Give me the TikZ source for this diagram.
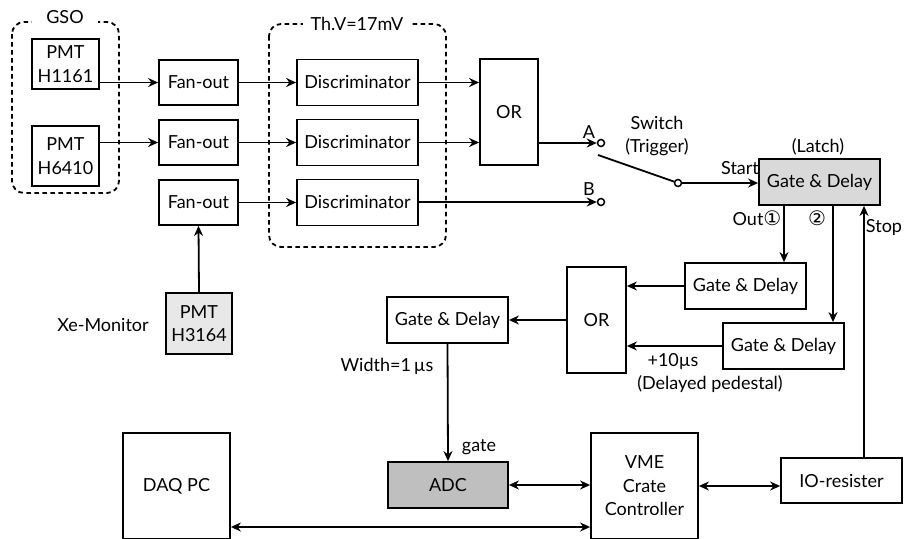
\documentclass[tikz,border=0pt]{standalone}
\usepackage{fontspec}
\setmainfont{Lato}
\newfontfamily\symfont{DejaVu Sans}
\usetikzlibrary{arrows.meta}
\begin{document}
\begin{tikzpicture}[x=1pt,y=-1pt,
  txt/.style={font=\fontsize{18}{23.5}\selectfont},
  box/.style={txt, draw, line width=1.8pt, inner sep=0pt, align=center},
  lbl/.style={txt, inner sep=0pt, align=center},
  arr/.style={line width=1.8pt, -{Stealth[length=10pt,width=9pt]}},
  darr/.style={line width=1.8pt, {Stealth[length=10pt,width=9pt]}-{Stealth[length=10pt,width=9pt]}},
  grp/.style={draw, line width=1.8pt, dash pattern=on 4.5pt off 3.5pt, rounded corners=12pt},
  term/.style={circle, draw, line width=1.5pt, minimum size=7pt, inner sep=0pt, fill=white},
  gd/.style={box, minimum width=121pt, minimum height=46pt}]
\clip (0,0) rectangle (904,538);
\fill[white] (0,0) rectangle (904,538);
% groups
\draw[grp] (12,22) rectangle (119,193);
\draw[grp] (269,24) rectangle (446,247);
\node[lbl, fill=white, inner xsep=14pt, inner ysep=2pt] (gsolbl) at (65,17) {GSO};
\node[lbl, fill=white, inner xsep=8pt, inner ysep=2pt] (thvlbl) at (357,24) {Th.V=17mV};
% PMTs
\node[box, minimum width=67pt, minimum height=50pt] (pmt1) at (65.5,64) {PMT\\H1161};
\node[box, minimum width=67pt, minimum height=60pt] (pmt2) at (65.5,156) {PMT\\H6410};
\node[box, fill=black!9, minimum width=66pt, minimum height=61pt] (pmt3) at (199,323.5) {PMT\\H3164};
\node[lbl] (xemon) at (103,325) {Xe-Monitor};
% fan-outs
\node[box, minimum width=79pt, minimum height=45pt] (fan1) at (198.5,82.5) {Fan-out};
\node[box, minimum width=79pt, minimum height=45pt] (fan2) at (198.5,142.5) {Fan-out};
\node[box, minimum width=79pt, minimum height=45pt] (fan3) at (198.5,202.5) {Fan-out};
% discriminators
\node[gd] (disc1) at (357.5,82.5) {Discriminator};
\node[gd] (disc2) at (357.5,142.5) {Discriminator};
\node[gd] (disc3) at (357.5,202.5) {Discriminator};
% OR
\node[box, minimum width=58pt, minimum height=106pt] (or1) at (509,112) {OR};
% switch
\node[term] (A) at (601,143) {};
\node[term] (B) at (601,202) {};
\node[term] (sw) at (678,183) {};
\coordinate (swstart) at (598,155);
\node[lbl] (alab) at (589,132) {A};
\node[lbl] (blab) at (589,189) {B};
\node[lbl] (swlab) at (657,136) {Switch\\(Trigger)};
% latch
\node[gd, fill=black!15] (latch) at (819.5,182) {Gate \& Delay};
\node[lbl] (latchlab) at (818,147) {(Latch)};
\node[lbl] (startlab) at (740,168) {Start};
\node[lbl] (outlab) at (757,218) {Out{\symfont\fontsize{20}{20}\selectfont ①}};
\node[lbl] (twolab) at (817,218) {{\symfont\fontsize{20}{20}\selectfont ②}};
\node[lbl] (stoplab) at (884,228) {Stop};
% gate & delays
\node[gd] (gd1) at (745.5,286) {Gate \& Delay};
\node[gd] (gd2) at (783.5,346) {Gate \& Delay};
\node[box, minimum width=59pt, minimum height=106pt] (or2) at (596.5,320) {OR};
\node[gd] (gd3) at (447.5,320) {Gate \& Delay};
\node[lbl] (plus) at (673,362) {+10µs};
\node[lbl] (delped) at (710,384) {(Delayed pedestal)};
\node[lbl] (width) at (387,366) {Width=1\,µs};
\node[lbl] (gatelab) at (479,447) {gate};
% bottom row
\node[box, fill=black!25, minimum width=120pt, minimum height=46pt] (adc) at (448,485) {ADC};
\node[box, minimum width=107pt, minimum height=106pt] (vme) at (644.5,486) {VME\\Crate\\Controller};
\node[box, minimum width=107pt, minimum height=106pt] (daq) at (176.5,486) {DAQ PC};
\node[box, minimum width=121pt, minimum height=45pt] (io) at (841.5,480.5) {IO-resister};
% connectors
\draw[arr] (pmt1.east |- fan1) -- (fan1.west);
\draw[arr] (pmt2.east |- fan2) -- (fan2.west);
\draw[arr] (fan1.east) -- (fan1.east -| disc1.west);
\draw[arr] (fan2.east) -- (fan2.east -| disc2.west);
\draw[arr] (fan3.east) -- (fan3.east -| disc3.west);
\draw[arr] (disc1.east) -- (disc1.east -| or1.west);
\draw[arr] (disc2.east) -- (disc2.east -| or1.west);
\draw[arr] (or1.east |- A) -- (A);
\draw[arr] (disc3.east |- B) -- (B);
\draw[line width=1.8pt] (swstart) -- (sw);
\draw[arr] (sw) -- (sw -| latch.west);
\draw[arr] ([xshift=-35.5pt]latch.south) -- ([xshift=-35.5pt]latch.south |- gd1.north);
\draw[arr] ([xshift=13.5pt]latch.south) -- ([xshift=13.5pt]latch.south |- gd2.north);
\draw[arr] ([xshift=22.5pt]io.north) -- ([xshift=22.5pt]io.north |- latch.south);
\draw[arr] (gd1.west) -- (gd1.west -| or2.east);
\draw[arr] (gd2.west) -- (gd2.west -| or2.east);
\draw[arr] (or2.west) -- (gd3.east);
\draw[arr] (gd3.south) -- (adc.north);
\draw[arr] (pmt3.north) -- (fan3.south);
\draw[darr] (adc.east) -- (adc.east -| vme.west);
\draw[darr] (vme.east) -- (vme.east -| io.west);
\draw[darr] ([yshift=-41pt]daq.east) -- ([yshift=-41pt]daq.east -| vme.west);
\end{tikzpicture}
\end{document}
